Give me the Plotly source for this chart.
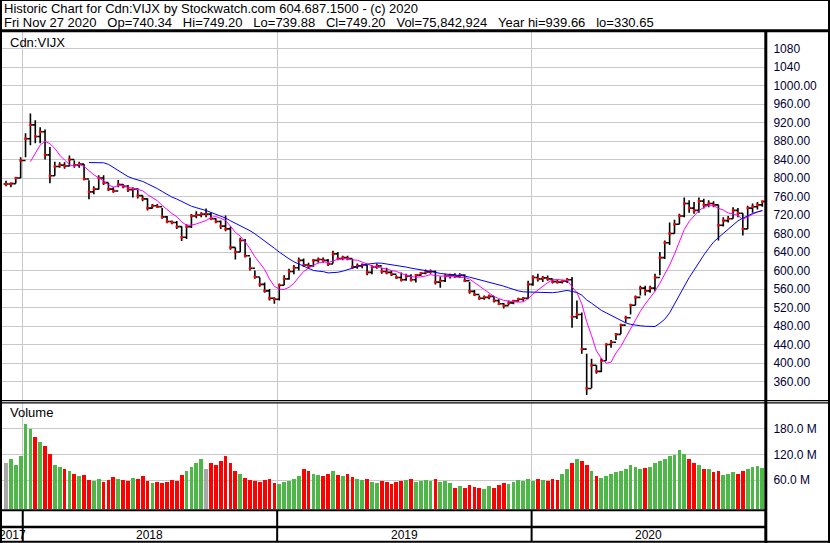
import pandas as pd
import plotly.graph_objects as go

W, H = 830, 543
FONT = "Arial, Liberation Sans, sans-serif"

# weekly bars (week ending Friday)
week_end = pd.date_range("2017-12-08", periods=156, freq="7D")

wk_high = [
    794, 790, 802, 845, 897, 939.66, 925, 910, 905, 867,
    835, 834, 834, 849, 838, 835, 830, 795, 782, 806,
    806, 790, 780, 796, 787, 785, 780, 778, 762, 756,
    744, 744, 735, 718, 708, 707, 696, 700, 722, 728,
    726, 734, 726, 713, 708, 719, 695, 650, 671, 668,
    628, 600, 585, 574, 560, 542, 572, 590, 604, 612,
    628, 626, 617, 625, 628, 628, 625, 643, 640, 632,
    632, 625, 615, 615, 612, 612, 615, 606, 606, 600,
    590, 596, 593, 592, 592, 597, 602, 602, 600, 587,
    593, 593, 594, 594, 592, 575, 558, 546, 546, 548,
    545, 538, 530, 535, 536, 541, 541, 578, 590, 593,
    588, 589, 582, 580, 580, 584, 586, 535, 509, 420,
    409, 395, 411, 442, 450, 465, 485, 502, 528, 546,
    567, 567, 567, 593, 640, 665, 704, 710, 723, 758,
    752, 748, 758, 755, 752, 750, 742, 715, 718, 737,
    735, 724, 740, 745, 748, 749.2,
]
wk_low = [
    782, 780, 788, 800, 845, 871, 875, 875, 840, 789,
    805, 822, 820, 825, 822, 822, 795, 754, 765, 775,
    785, 772, 768, 780, 778, 770, 758, 756, 750, 730,
    734, 735, 712, 702, 700, 690, 664, 668, 692, 713,
    715, 715, 710, 702, 690, 685, 645, 624, 640, 628,
    600, 582, 565, 552, 535, 528, 535, 568, 580, 592,
    600, 608, 605, 608, 617, 617, 610, 615, 622, 622,
    622, 604, 604, 605, 590, 592, 604, 593, 592, 588,
    582, 576, 578, 576, 574, 588, 592, 593, 570, 563,
    575, 583, 584, 584, 575, 550, 545, 537, 537, 538,
    531, 526, 518, 525, 527, 533, 533, 538, 567, 576,
    575, 578, 572, 572, 572, 573, 476, 495, 420, 330.65,
    346, 377, 380, 405, 433, 450, 463, 487, 505, 525,
    546, 546, 552, 555, 590, 625, 655, 680, 700, 715,
    725, 723, 725, 734, 737, 737, 665, 695, 704, 712,
    715, 676, 690, 725, 732, 738,
]
wk_close = [
    787, 788, 800, 838, 885, 915, 890, 900, 850, 805,
    825, 828, 826, 840, 828, 830, 798, 770, 776, 800,
    790, 776, 772, 786, 782, 775, 776, 762, 755, 735,
    740, 738, 716, 706, 704, 695, 672, 695, 718, 720,
    722, 722, 712, 706, 696, 690, 650, 640, 665, 632,
    605, 586, 570, 556, 540, 538, 568, 582, 598, 606,
    622, 612, 610, 622, 624, 622, 614, 636, 626, 628,
    626, 608, 610, 612, 596, 608, 610, 598, 596, 592,
    585, 580, 588, 580, 590, 594, 597, 598, 575, 578,
    588, 590, 588, 590, 578, 555, 548, 540, 542, 544,
    535, 528, 524, 530, 534, 538, 540, 570, 585, 582,
    584, 582, 576, 575, 577, 580, 500, 505, 430, 345,
    395, 382, 405, 440, 445, 462, 482, 498, 525, 542,
    562, 556, 562, 585, 628, 660, 680, 700, 718, 745,
    735, 730, 750, 742, 745, 742, 698, 708, 712, 730,
    724, 690, 735, 738, 742, 749.2,
]
# average daily volume per week, millions of shares
wk_vol = [
    100, 110, 95, 115, 190, 180, 160, 150, 140, 120,
    95, 90, 85, 80, 75, 70, 72, 60, 58, 62,
    55, 60, 68, 62, 60, 58, 65, 62, 70, 58,
    52, 55, 54, 56, 60, 58, 72, 80, 90, 100,
    110, 85, 100, 95, 105, 115, 100, 80, 75, 65,
    60, 58, 55, 60, 62, 52, 50, 55, 58, 62,
    70, 85, 80, 75, 72, 70, 75, 80, 72, 70,
    75, 68, 62, 60, 62, 55, 52, 58, 56, 50,
    55, 58, 60, 62, 55, 58, 60, 58, 62, 55,
    58, 52, 42, 45, 42, 48, 44, 42, 40, 45,
    42, 48, 52, 50, 55, 60, 58, 62, 58, 62,
    60, 58, 62, 60, 75, 85, 100, 110, 105, 95,
    80, 70, 65, 70, 75, 78, 80, 85, 95, 90,
    85, 88, 90, 100, 105, 110, 115, 118, 130, 120,
    110, 100, 95, 85, 85, 78, 80, 72, 75, 78,
    75, 80, 85, 90, 92, 88,
]

price_ticks = list(range(360, 1081, 40))
price_ticktext = [str(v) if v > 1000 else f"{v:.2f}" for v in price_ticks]
vol_ticks = [60, 120, 180]
vol_ticktext = ["60.0 M", "120.0 M", "180.0 M"]
year_starts = ["2018-01-01", "2019-01-01", "2020-01-01"]
year_labels = ["2017", "2018", "2019", "2020"]

header1 = "Historic Chart for Cdn:VIJX by Stockwatch.com 604.687.1500 - (c) 2020"
header2 = ("Fri Nov 27 2020   Op=740.34   Hi=749.20   Lo=739.88   Cl=749.20   "
           "Vol=75,842,924   Year hi=939.66   lo=330.65").replace("   ", "\u00a0\u00a0\u00a0")

X_RANGE = [pd.Timestamp("2017-12-02 06:00"), pd.Timestamp("2020-12-02 06:00")]
VOL_FLOOR = -7.8

# derived series
wk_open = wk_close[:1] + wk_close[:-1]
ma_short = pd.Series(wk_close).rolling(6).mean()
ma_long = pd.Series(wk_close).rolling(18).mean()
vol_colors = ["#ff0000" if c < o else ("#4db848" if c > o else "#a8a8a8")
              for o, c in zip(wk_open, wk_close)]


def px(x):
    return x / W


def py(y):
    return 1 - y / H


fig = go.Figure()

fig.add_trace(go.Ohlc(
    x=week_end, open=wk_open, high=wk_high, low=wk_low, close=wk_close,
    increasing_line_color="black", decreasing_line_color="black",
    line_width=1.6, tickwidth=0.5, xaxis="x", yaxis="y", hoverinfo="skip",
))
fig.add_trace(go.Scatter(
    x=week_end, y=wk_close, mode="markers",
    marker=dict(symbol="square", size=2.5, color="#ff0000", line_width=0),
    xaxis="x", yaxis="y", hoverinfo="skip",
))
fig.add_trace(go.Scatter(
    x=week_end, y=ma_short, mode="lines",
    line=dict(color="#ff00ff", width=1), xaxis="x", yaxis="y",
))
fig.add_trace(go.Scatter(
    x=week_end, y=ma_long, mode="lines",
    line=dict(color="#0000ff", width=1), xaxis="x", yaxis="y",
))

# volume bars start at the panel floor
fig.add_trace(go.Bar(
    x=week_end, y=[v - VOL_FLOOR for v in wk_vol], base=VOL_FLOOR,
    marker=dict(color=vol_colors, line_width=0),
    width=5.4 * 86400000, xaxis="x2", yaxis="y2", hoverinfo="skip",
))

grid = "#c8c8c8"
tick_font = dict(family=FONT, size=12, color="#000033")
xcommon = dict(
    domain=[px(2), px(766)], range=X_RANGE, type="date",
    tickvals=year_starts, showticklabels=False, showgrid=True,
    gridcolor=grid, gridwidth=1, zeroline=False, showline=False,
    ticks="", fixedrange=True,
)

fig.update_layout(
    width=W, height=H,
    margin=dict(l=0, r=0, t=0, b=0),
    paper_bgcolor="white", plot_bgcolor="white",
    showlegend=False,
    xaxis=dict(**xcommon, anchor="y", rangeslider=dict(visible=False)),
    xaxis2=dict(**xcommon, anchor="y2", matches="x"),
    yaxis=dict(
        domain=[py(400), py(31)], range=[320, 1118], side="right",
        tickvals=price_ticks, ticktext=price_ticktext, tickfont=tick_font,
        showgrid=True, gridcolor=grid, zeroline=False, ticks="outside",
        ticklen=4, tickcolor="rgba(0,0,0,0)", automargin=False,
        fixedrange=True,
    ),
    yaxis2=dict(
        domain=[py(509), py(403)], range=[VOL_FLOOR, 240], side="right",
        tickvals=vol_ticks, ticktext=vol_ticktext, tickfont=tick_font,
        showgrid=True, gridcolor=grid, zeroline=False, ticks="outside",
        ticklen=4, tickcolor="rgba(0,0,0,0)", automargin=False,
        fixedrange=True,
    ),
    bargap=0,
)

annos = [
    dict(x=px(2), y=py(8.5), text=header1),
    dict(x=px(2), y=py(22), text=header2),
    dict(x=px(8), y=py(42), text="Cdn:VIJX"),
    dict(x=px(8), y=py(413), text="Volume"),
]
for a in annos:
    fig.add_annotation(xref="paper", yref="paper", xanchor="left",
                       yanchor="middle", showarrow=False,
                       font=dict(family=FONT, size=13, color="black"), **a)

# year labels centred on the visible part of each year
bounds = [X_RANGE[0]] + [pd.Timestamp(d) for d in year_starts] + [X_RANGE[1]]
for lab, a, b in zip(year_labels, bounds[:-1], bounds[1:]):
    fig.add_annotation(xref="x", yref="paper", x=a + (b - a) / 2, y=py(534.5),
                       text=lab, showarrow=False, xanchor="center",
                       yanchor="middle",
                       font=dict(family=FONT, size=12, color="black"))


# chart frame
def hline(y, x0, x1, w):
    fig.add_shape(type="line", xref="paper", yref="paper", x0=px(x0), x1=px(x1),
                  y0=py(y), y1=py(y), line=dict(color="black", width=w))


def vline(x, y0, y1, w):
    fig.add_shape(type="line", xref="paper", yref="paper", x0=px(x), x1=px(x),
                  y0=py(y0), y1=py(y1), line=dict(color="black", width=w))


hline(0.5, 0, W, 1)
hline(30.8, 0, W, 3)
hline(400.7, 0, W, 1.3)
hline(402.9, 0, W, 1.3)
hline(510.2, 0, 766, 2)
hline(527, 0, 766, 2.5)
hline(541.8, 0, W, 2)
vline(1, 0, H, 2)
vline(829, 0, H, 2)
vline(765.8, 31, H, 3)
for d in year_starts:
    fig.add_shape(type="line", xref="x", yref="paper", x0=d, x1=d,
                  y0=py(510), y1=py(542), line=dict(color="black", width=2))

# page has a default body margin; drop it so the chart sits at the window corner
fig.write_html("out.html", config={"displayModeBar": False, "staticPlot": True},
               post_script="document.body.style.margin='0';"
                           "document.body.style.overflow='hidden';")
